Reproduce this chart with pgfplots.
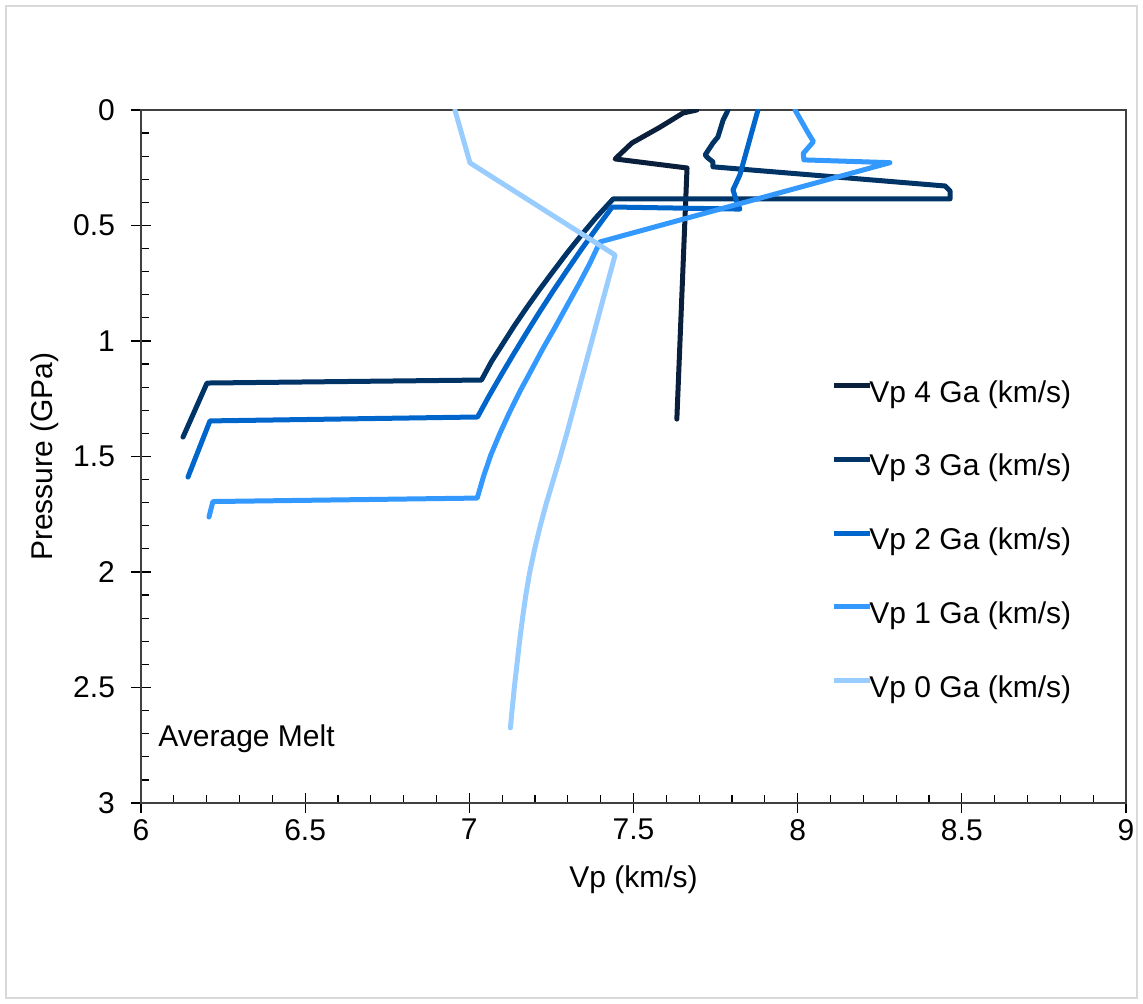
\documentclass[border=0pt]{standalone}
\usepackage{pgfplots}
\pgfplotsset{compat=1.18}
\usepackage{fontspec}
\setmainfont{Liberation Sans}
\definecolor{c4}{HTML}{0A1F3C}
\definecolor{c3}{HTML}{003366}
\definecolor{c2}{HTML}{0066CC}
\definecolor{c1}{HTML}{3399FF}
\definecolor{c0}{HTML}{99CCFF}
\definecolor{framec}{HTML}{D9D9D9}
\begin{document}
\begin{tikzpicture}[font=\fontsize{15}{18}\selectfont]
\useasboundingbox (0,0) rectangle (571.5pt,502pt);
\draw[framec, line width=0.6pt] (3pt,3pt) rectangle (568.5pt,499pt);
% outward half of the major ticks
\begin{axis}[
  at={(70.5pt,100.5pt)}, anchor=south west,
  scale only axis, width=492.5pt, height=346.5pt,
  xmin=6, xmax=9, ymin=0, ymax=3, y dir=reverse,
  xtick={6,6.5,...,9}, ytick={0,0.5,...,3},
  xticklabels={}, yticklabels={},
  tick pos=left, tick align=outside, major tick length=5pt,
  every tick/.style={black, line width=0.6pt},
  axis line style={draw=none},
]
\end{axis}
\begin{axis}[
  at={(70.5pt,100.5pt)}, anchor=south west,
  scale only axis, width=492.5pt, height=346.5pt,
  xmin=6, xmax=9, ymin=0, ymax=3, y dir=reverse,
  xtick={6,6.5,...,9}, ytick={0,0.5,...,3},
  minor x tick num=4, minor y tick num=4,
  tick pos=left, tick align=inside,
  major tick length=5pt, minor tick length=4pt,
  every tick/.style={black, line width=0.6pt},
  axis line style={line width=0.6pt, black!75},
  /pgf/number format/assume math mode=true,
  xticklabel style={yshift=-4.5pt},
  yticklabel style={xshift=-9.5pt},
  xlabel={Vp (km/s)}, ylabel={Pressure (GPa)},
  xlabel style={at={(axis description cs:0.5,-0.111)}, anchor=center},
  ylabel style={at={(axis description cs:-0.0975,0.5)}, anchor=center},
  legend cell align=left,
  legend image code/.code={\draw[#1, line cap=butt] (0pt,0.36em) -- (18pt,0.36em);},
  legend style={draw=none, fill=none, inner sep=0pt,
    at={(0.7005,0.6104)}, anchor=north west,
    row sep=24.5pt, column sep=-1.5pt,
    nodes={inner sep=0pt}},
  every axis plot/.append style={line width=2.5pt, line join=round, line cap=round},
]
\addplot[c4] coordinates {
(7.693,0) (7.651,0.013) (7.58,0.075) (7.495,0.143) (7.444,0.212) (7.663,0.251) (7.632,1.338)
};
\addlegendentry{Vp 4 Ga (km/s)}
\addplot[c3] coordinates {
(7.788,0) (7.773,0.043) (7.757,0.117) (7.742,0.143) (7.718,0.195) (7.727,0.208) (7.742,0.225) (7.742,0.246)
(8.449,0.329) (8.464,0.350) (8.464,0.385) (7.438,0.385)
(7.387,0.464) (7.341,0.542) (7.297,0.620) (7.255,0.699) (7.214,0.777) (7.175,0.855)
(7.137,0.934) (7.102,1.012) (7.067,1.090) (7.037,1.169)
(6.201,1.182) (6.128,1.416)
};
\addlegendentry{Vp 3 Ga (km/s)}
\addplot[c2] coordinates {
(7.879,0) (7.824,0.281) (7.803,0.346) (7.815,0.400) (7.824,0.429) (7.435,0.420)
(7.388,0.511) (7.342,0.602) (7.298,0.693) (7.255,0.784) (7.214,0.874) (7.174,0.965)
(7.135,1.056) (7.097,1.147) (7.060,1.238) (7.025,1.329)
(6.210,1.346) (6.143,1.589)
};
\addlegendentry{Vp 2 Ga (km/s)}
\addplot[c1] coordinates {
(7.992,0) (8.032,0.100) (8.048,0.137) (8.017,0.188) (8.019,0.216) (8.281,0.228)
(7.398,0.571) (7.367,0.664) (7.333,0.756) (7.297,0.848) (7.261,0.941) (7.224,1.033)
(7.189,1.126) (7.154,1.218) (7.122,1.310) (7.092,1.403) (7.065,1.495) (7.043,1.587) (7.024,1.680)
(6.219,1.695) (6.207,1.762)
};
\addlegendentry{Vp 1 Ga (km/s)}
\addplot[c0] coordinates {
(6.956,0) (7.002,0.229) (7.444,0.628) (7.411,0.800) (7.373,1.000) (7.335,1.200) (7.297,1.400)
(7.277,1.500) (7.256,1.600) (7.235,1.700) (7.216,1.800) (7.199,1.900) (7.184,2.000) (7.172,2.100)
(7.162,2.200) (7.153,2.300) (7.145,2.400) (7.137,2.500) (7.130,2.600) (7.125,2.675)
};
\addlegendentry{Vp 0 Ga (km/s)}
\node[anchor=base west, inner sep=0pt] at (axis cs:6.052,2.757) {Average Melt};
\end{axis}
\end{tikzpicture}
\end{document}
